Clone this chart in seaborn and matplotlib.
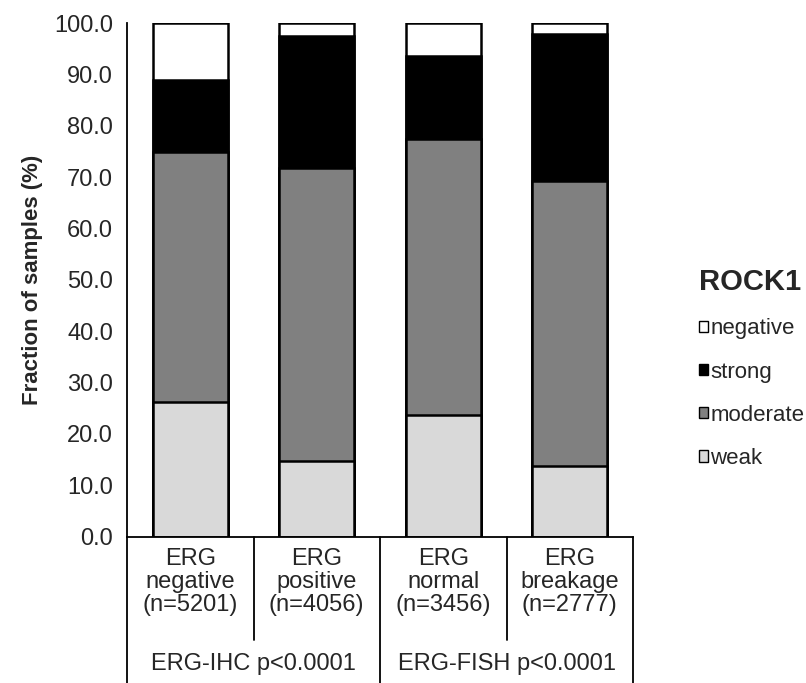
import numpy as np
import pandas as pd
import matplotlib
matplotlib.use("Agg")
import matplotlib.pyplot as plt
from matplotlib.patches import Patch
import matplotlib.transforms as mtransforms
import seaborn as sns

# values (% of samples)
groups = ["ERG\nnegative\n(n=5201)", "ERG\npositive\n(n=4056)",
          "ERG\nnormal\n(n=3456)", "ERG\nbreakage\n(n=2777)"]
weak = [26.2, 14.7, 23.7, 13.8]
moderate = [48.7, 57.0, 53.7, 55.5]
strong = [14.0, 25.8, 16.2, 28.6]
negative = [11.1, 2.5, 6.4, 2.1]
tests = ["ERG-IHC p<0.0001", "ERG-FISH p<0.0001"]
levels = ["negative", "strong", "moderate", "weak"]
colors = {"negative": "#ffffff", "strong": "#000000",
          "moderate": "#808080", "weak": "#d9d9d9"}

sns.set_style("white")
plt.rcParams["font.family"] = ["Liberation Sans", "DejaVu Sans"]

df = pd.DataFrame({"group": groups, "weak": weak, "moderate": moderate,
                   "strong": strong, "negative": negative})
# cumulative tops so the layered bars stack
df["top_weak"] = df["weak"]
df["top_moderate"] = df["top_weak"] + df["moderate"]
df["top_strong"] = df["top_moderate"] + df["strong"]
df["top_negative"] = df["top_strong"] + df["negative"]

fig = plt.figure(figsize=(8.06, 6.83), dpi=100)
ax = fig.add_axes([127 / 806, 1 - 536.7 / 683, 506 / 806, 513.7 / 683])

for lev in levels:
    sns.barplot(data=df, x="group", y="top_" + lev, color=colors[lev],
                edgecolor="black", linewidth=1.8, width=0.59, saturation=1,
                ax=ax)

ax.set_xlim(-0.5, 3.5)
ax.set_ylim(0, 100)
ax.set_yticks(np.arange(0, 101, 10))
ax.set_yticklabels([f"{v:.1f}" for v in np.arange(0, 101, 10)], fontsize=17)
ax.tick_params(axis="y", direction="out", length=5, width=1.3, color="black", pad=5)
ax.tick_params(axis="x", length=0)
ax.set_xticklabels([])
ax.set_xlabel("")
ax.set_ylabel("Fraction of samples (%)", fontsize=16, fontweight="bold", labelpad=8)
for s in ["top", "right"]:
    ax.spines[s].set_visible(False)
for s in ["left", "bottom"]:
    ax.spines[s].set_color("black")
    ax.spines[s].set_linewidth(1.3)

# table under the axis
trans = mtransforms.blended_transform_factory(ax.transData, ax.transAxes)
for xb, ybot in zip([-0.5, 0.5, 1.5, 2.5, 3.5], [-0.29, -0.201, -0.29, -0.201, -0.29]):
    ax.plot([xb, xb], [0, ybot], color="black", lw=1.3, transform=trans, clip_on=False)
for i, g in enumerate(groups):
    ax.text(i, -0.088, g, transform=trans, ha="center", va="center",
            fontsize=17, linespacing=1.05)
for i, t in enumerate(tests):
    ax.text(0.5 + 2 * i, -0.248, t, transform=trans, ha="center", va="center",
            fontsize=17)

handles = [Patch(facecolor=colors[l], edgecolor="black", linewidth=1) for l in levels]
leg = fig.legend(handles, levels, title="ROCK1", loc="upper left",
                 bbox_to_anchor=(688 / 806, 1 - 257 / 683), frameon=False,
                 fontsize=16, handlelength=0.4, handleheight=0.4,
                 handletextpad=0.1, labelspacing=1.0, borderpad=0)
leg.get_title().set_fontsize(21)
leg.get_title().set_fontweight("bold")
leg._legend_box.align = "left"

fig.savefig("out.png", dpi=100)
